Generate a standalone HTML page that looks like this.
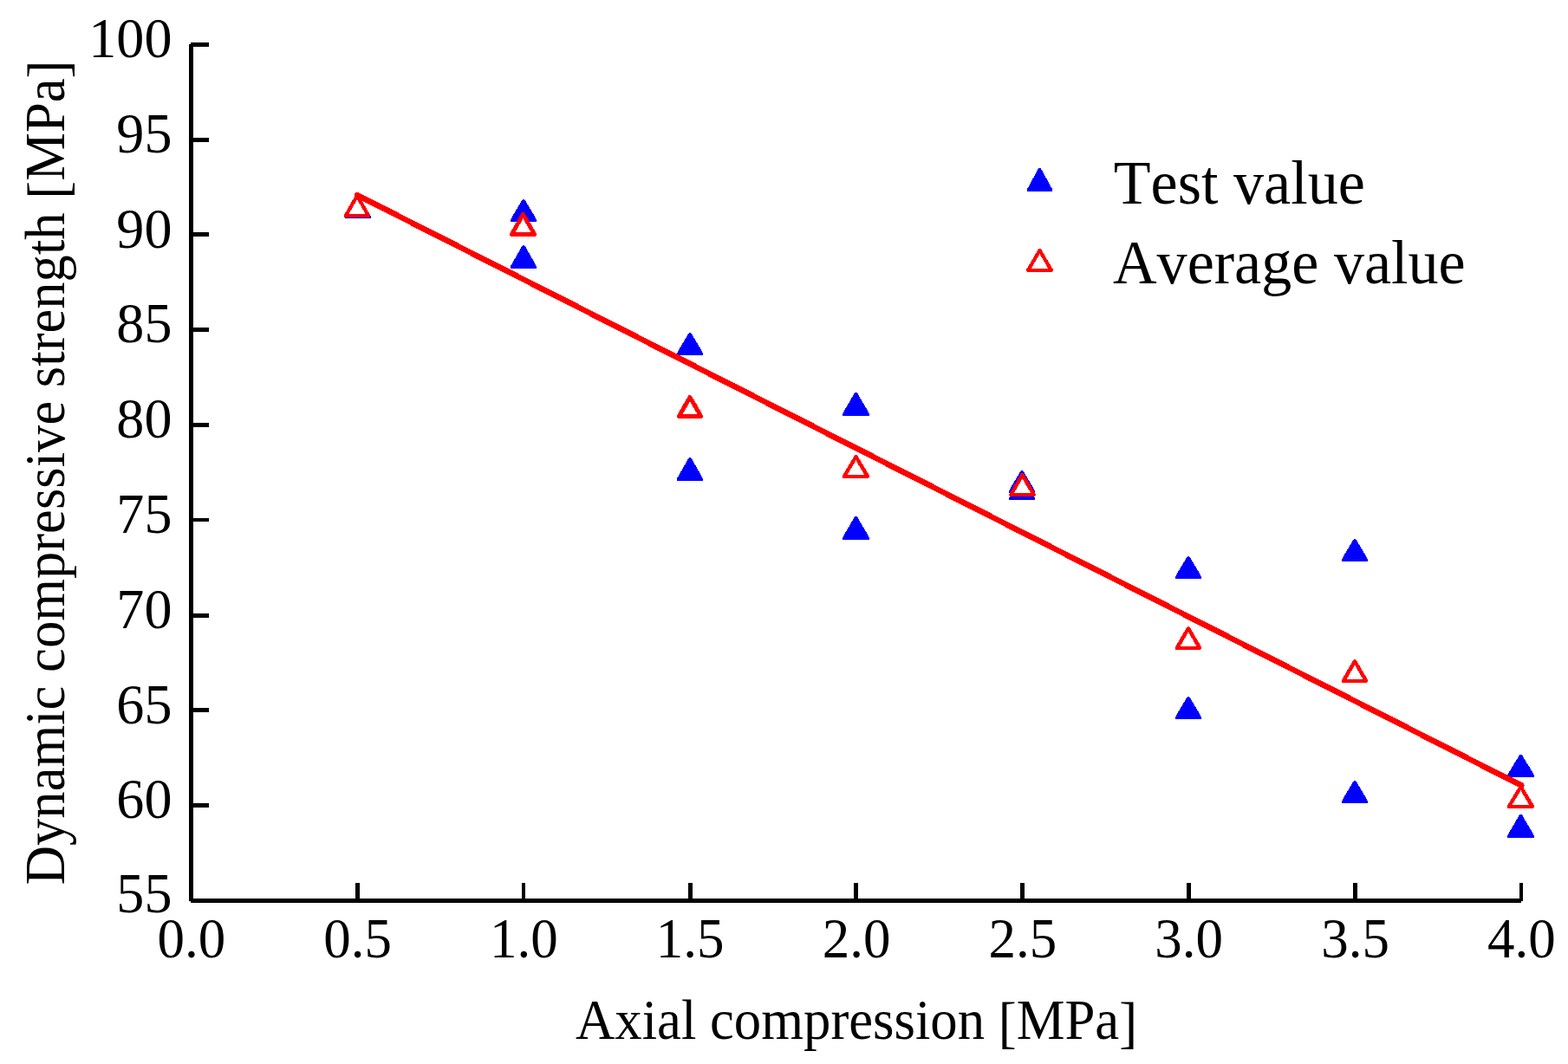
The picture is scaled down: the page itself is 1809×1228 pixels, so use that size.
<!DOCTYPE html>
<html lang="en">
<head>
<meta charset="utf-8">
<title>Dynamic compressive strength vs. axial compression</title>
<style>
html,body{margin:0;padding:0;background:#fff;}
body{width:1809px;height:1228px;overflow:hidden;}
svg{display:block;}
text{font-family:"Liberation Serif","DejaVu Serif",serif;fill:#000;font-kerning:none;font-variant-ligatures:none;}
.ax{fill:#000;shape-rendering:crispEdges;}
.b{fill:#0000ff;shape-rendering:crispEdges;}
.r{fill:#fff;stroke:#ff0000;stroke-linejoin:round;shape-rendering:crispEdges;}
.fit{stroke:#ff0000;stroke-linecap:round;fill:none;shape-rendering:crispEdges;}
</style>
</head>
<body>
<svg width="1809" height="1228" viewBox="0 0 1809 1228">
<rect x="0" y="0" width="1809" height="1228" fill="#ffffff"/>

<g class="ax">
<rect x="218" y="51" width="5" height="989"/>
<rect x="220" y="1037" width="1535" height="5"/>
<rect x="220" y="49" width="21" height="5"/>
<rect x="220" y="159" width="21" height="5"/>
<rect x="220" y="268" width="21" height="5"/>
<rect x="220" y="378" width="21" height="5"/>
<rect x="220" y="488" width="21" height="5"/>
<rect x="220" y="598" width="21" height="4"/>
<rect x="220" y="708" width="21" height="5"/>
<rect x="220" y="817" width="21" height="5"/>
<rect x="220" y="927" width="21" height="5"/>
<rect x="410" y="1019" width="5" height="21"/>
<rect x="602" y="1019" width="4" height="21"/>
<rect x="794" y="1019" width="5" height="21"/>
<rect x="985" y="1019" width="5" height="21"/>
<rect x="1177" y="1019" width="5" height="21"/>
<rect x="1369" y="1019" width="5" height="21"/>
<rect x="1561" y="1019" width="5" height="21"/>
<rect x="1753" y="1019" width="4" height="21"/>
</g>
<g font-size="63.5">
<text text-anchor="end" transform="translate(198.5,66.1) scale(1.01,1.045)">100</text>
<text text-anchor="end" transform="translate(198.5,175.9) scale(1.01,1.045)">95</text>
<text text-anchor="end" transform="translate(198.5,285.7) scale(1.01,1.045)">90</text>
<text text-anchor="end" transform="translate(198.5,395.4) scale(1.01,1.045)">85</text>
<text text-anchor="end" transform="translate(198.5,505.2) scale(1.01,1.045)">80</text>
<text text-anchor="end" transform="translate(198.5,615.0) scale(1.01,1.045)">75</text>
<text text-anchor="end" transform="translate(198.5,724.8) scale(1.01,1.045)">70</text>
<text text-anchor="end" transform="translate(198.5,834.5) scale(1.01,1.045)">65</text>
<text text-anchor="end" transform="translate(198.5,944.3) scale(1.01,1.045)">60</text>
<text text-anchor="end" transform="translate(198.5,1053.3) scale(1.01,1.045)">55</text>
<text text-anchor="middle" transform="translate(220.8,1104.8) scale(0.992,1.045)">0.0</text>
<text text-anchor="middle" transform="translate(412.6,1104.8) scale(0.992,1.045)">0.5</text>
<text text-anchor="middle" transform="translate(604.4,1104.8) scale(0.992,1.045)">1.0</text>
<text text-anchor="middle" transform="translate(796.2,1104.8) scale(0.992,1.045)">1.5</text>
<text text-anchor="middle" transform="translate(988.0,1104.8) scale(0.992,1.045)">2.0</text>
<text text-anchor="middle" transform="translate(1179.9,1104.8) scale(0.992,1.045)">2.5</text>
<text text-anchor="middle" transform="translate(1371.7,1104.8) scale(0.992,1.045)">3.0</text>
<text text-anchor="middle" transform="translate(1563.5,1104.8) scale(0.992,1.045)">3.5</text>
<text text-anchor="middle" transform="translate(1755.3,1104.8) scale(0.992,1.045)">4.0</text>
</g>
<text font-size="65.7" transform="translate(664,1199.3) scale(0.955,1)">Axial compression <tspan dy="2.7">[</tspan><tspan dy="-2.7">MPa</tspan><tspan dy="2.7">]</tspan></text>
<text font-size="65.7" letter-spacing="0" word-spacing="0" transform="translate(74.4,1021.2) rotate(-90) scale(0.9535,1)">Dynamic compressive strength <tspan dy="2.7">[</tspan><tspan dy="-2.7">MPa</tspan><tspan dy="2.7">]</tspan></text>
<g>
<polygon class="b" points="411.6,226 414.0,226 427.8,249.4 427.8,252 397.8,252 397.8,249.4"/>
<polygon class="b" points="602.8,230 605.2,230 619.0,253.4 619.0,256 589.0,256 589.0,253.4"/>
<polygon class="b" points="602.8,283 605.2,283 619.0,307.4 619.0,310 589.0,310 589.0,307.4"/>
<polygon class="b" points="794.8,384 797.2,384 811.0,407.4 811.0,410 781.0,410 781.0,407.4"/>
<polygon class="b" points="794.8,528 797.2,528 811.0,552.4 811.0,555 781.0,555 781.0,552.4"/>
<polygon class="b" points="986.3,453 988.7,453 1003.0,477.4 1003.0,480 972.0,480 972.0,477.4"/>
<polygon class="b" points="986.3,596 988.7,596 1003.0,620.4 1003.0,623 972.0,623 972.0,620.4"/>
<polygon class="b" points="1177.8,543 1180.2,543 1194.0,566.4 1194.0,569 1164.0,569 1164.0,566.4"/>
<polygon class="b" points="1177.8,551 1180.2,551 1194.0,574.4 1194.0,577 1164.0,577 1164.0,574.4"/>
<polygon class="b" points="1369.8,642 1372.2,642 1386.0,665.4 1386.0,668 1356.0,668 1356.0,665.4"/>
<polygon class="b" points="1369.8,804 1372.2,804 1386.0,827.4 1386.0,830 1356.0,830 1356.0,827.4"/>
<polygon class="b" points="1561.8,622 1564.2,622 1578.0,645.4 1578.0,648 1548.0,648 1548.0,645.4"/>
<polygon class="b" points="1561.8,901 1564.2,901 1578.0,924.4 1578.0,927 1548.0,927 1548.0,924.4"/>
<polygon class="b" points="1753.3,871 1755.7,871 1770.0,894.4 1770.0,897 1739.0,897 1739.0,894.4"/>
<polygon class="b" points="1753.3,940 1755.7,940 1770.0,964.4 1770.0,967 1739.0,967 1739.0,964.4"/>
</g>
<line class="fit" x1="412.2" y1="225.2" x2="1755.2" y2="906.5" stroke-width="6.6"/>
<g>
<polygon class="r" stroke-width="4.2" points="412,226.1 425.15,248.9 398.85,248.9"/>
<polygon class="r" stroke-width="4.9" points="603.5,247.45 616.65,270.55 590.35,270.55"/>
<polygon class="r" stroke-width="5.0" points="796,458.5 808.75,480.5 783.25,480.5"/>
<polygon class="r" stroke-width="4.4" points="987.5,527.2 1001.05,549.8 973.95,549.8"/>
<polygon class="r" stroke-width="4.4" points="1179.5,548.2 1192.55,570.8 1166.45,570.8"/>
<polygon class="r" stroke-width="4.4" points="1371,725.2 1384.05,747.8 1357.95,747.8"/>
<polygon class="r" stroke-width="4.4" points="1563,763.2 1576.05,785.8 1549.95,785.8"/>
<polygon class="r" stroke-width="4.4" points="1754.5,908.2 1768.05,930.8 1740.95,930.8"/>
</g>
<polygon class="b" points="1198.3,194 1200.7,194 1214.0,218.4 1214.0,221 1185.0,221 1185.0,218.4"/>
<polygon class="r" stroke-width="4.2" points="1199.5,289.1 1212.9,311.9 1186.1,311.9"/>
<text font-size="71.1" transform="translate(1284.8,234.6) scale(0.986,1)">Test value</text>
<text font-size="71.1" transform="translate(1284.0,326.6) scale(0.986,1)">Average value</text>
</svg>
</body>
</html>
